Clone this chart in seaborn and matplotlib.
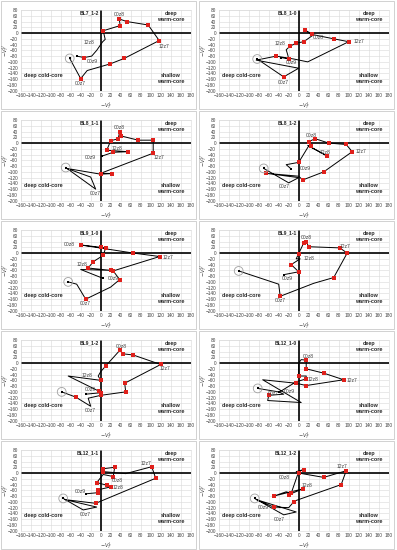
import matplotlib
matplotlib.use("Agg")
import matplotlib.pyplot as plt
from matplotlib.patches import Rectangle
import seaborn as sns

sns.set_style("white")
plt.rcParams['font.family'] = ['Liberation Sans', 'DejaVu Sans']

# ---- data (phase space trajectories) ----
titles = ["BL7_1-2", "BL8_1-0", "BL8_1-1", "BL8_1-2", "BL9_1-0",
          "BL9_1-1", "BL9_1-2", "BL12_1-0", "BL12_1-1", "BL12_1-2"]

bl7_12_x = [-62, -40, -27, 19, 47, 117, 95, 52, 37, 39, 5, 9, 4, -8, -18, -33, -48]
bl7_12_y = [-88, -158, -130, -107, -88, -26, 28, 40, 49, 26, 8, -22, -30, -60, -80, -85, -80]
bl7_12_red = [1, 3, 4, 5, 6, 7, 8, 9, 10, 15]
bl7_12_tags = {1: "00z7", 5: "12z7", 8: "00z8", 12: "12z8", 15: "00z9"}

bl8_10_x = [-83, -30, 0, -85, -45, -10, 18, 100, 70, 27, 13, 28, 10, -5, -17, -25, -22, -20, -35]
bl8_10_y = [-90, -152, -122, -94, -80, -90, -100, -30, -20, -5, 10, -8, -30, -35, -45, -58, -75, -90, -85]
bl8_10_red = [1, 4, 7, 8, 9, 10, 12, 13, 14, 17]
bl8_10_tags = {1: "00z7", 7: "12z7", 9: "00z8", 14: "12z8", 17: "00z9"}

bl8_11_x = [-70, -10, -20, -68, 0, 22, 0, 105, 105, 75, 40, 38, 35, 20, 12, 55, 25, 8, 3]
bl8_11_y = [-85, -160, -118, -88, -108, -106, -105, -35, 10, 10, 25, 40, 15, 8, -25, -30, -32, -42, -45]
bl8_11_red = [4, 5, 7, 8, 9, 10, 11, 12, 13, 14, 15, 16]
bl8_11_tags = {1: "00z7", 7: "12z7", 11: "00z8", 16: "12z8", 18: "00z9"}

bl8_12_x = [-70, -20, 0, -65, 0, 8, 50, 107, 95, 60, 33, 20, 25, 18, 57, 20, 0, -25, -15]
bl8_12_y = [-88, -138, -120, -105, -115, -128, -100, -30, -5, 0, 15, 5, -10, -8, -45, -10, -67, -75, -90]
bl8_12_red = [3, 5, 6, 7, 8, 9, 10, 11, 12, 14, 16]
bl8_12_tags = {1: "00z7", 7: "12z7", 10: "00z8", 14: "12z8", 16: "00z9"}

bl9_10_x = [-65, -48, -30, 20, 38, 25, 118, 65, -40, 0, 10, 5, -15, -25, 20, -40, 5]
bl9_10_y = [-100, -108, -160, -118, -92, -62, -12, 0, 28, 20, 18, -8, -30, -52, -60, -57, -88]
bl9_10_red = [2, 4, 5, 6, 7, 8, 9, 10, 11, 12, 13, 14]
bl9_10_tags = {2: "00z7", 6: "12z7", 8: "00z8", 13: "12z8", 16: "00z9"}

bl9_11_x = [-120, -40, -37, 30, 70, 97, 82, 20, 15, 10, 0, -5, 3, -15, 0, -30]
bl9_11_y = [-62, -108, -150, -105, -85, 0, 18, 22, 40, 35, -2, -20, -20, -40, -65, -75]
bl9_11_red = [2, 4, 5, 6, 7, 8, 9, 10, 13, 14]
bl9_11_tags = {2: "00z7", 5: "12z7", 8: "00z8", 12: "12z8", 15: "00z9"}

bl9_12_x = [-78, -50, -20, -25, 0, 50, 48, 120, 65, 45, 38, 35, 10, 0, -5, 0, -65, -3, 0, -30]
bl9_12_y = [-100, -118, -150, -122, -112, -100, -70, -5, 28, 32, 45, 38, -10, -30, -45, -60, -45, -98, -103, -108]
bl9_12_red = [1, 4, 5, 6, 7, 8, 9, 10, 12, 15, 17, 18]
bl9_12_tags = {2: "00z7", 7: "12z7", 10: "00z8", 14: "12z8", 17: "00z9"}

bl12_10_x = [-82, -40, -30, -60, -62, 5, -72, -5, 15, 90, 50, 15, 15, 5, 0, 0, 15, 15, -5, -40]
bl12_10_y = [-88, -100, -108, -112, -130, -137, -58, -70, -78, -58, -35, -20, 10, 12, 0, -45, -45, -55, -65, -102]
bl12_10_red = [3, 7, 8, 9, 10, 11, 12, 15, 17]
bl12_10_tags = {3: "00z7", 9: "12z7", 12: "00z8", 17: "12z8", 19: "00z9"}

bl12_11_x = [-75, -35, -8, -72, -10, 110, 102, 50, 5, 5, 28, 25, 5, -8, 12, 20, -5, -5, -30]
bl12_11_y = [-88, -128, -118, -92, -105, -18, 22, -2, 5, 15, 20, -12, -5, -33, -42, -48, -58, -68, -72]
bl12_11_red = [4, 5, 6, 8, 9, 10, 11, 13, 14, 15, 16, 17]
bl12_11_tags = {1: "00z7", 6: "12z7", 11: "00z8", 15: "12z8", 17: "00z9"}

bl12_12_x = [-88, -30, -5, -85, -50, -20, -10, -5, 85, 95, 50, 0, -5, 10, 0, -15, -25, -50, 8, -20, -22]
bl12_12_y = [-88, -145, -135, -92, -118, -120, -100, -95, -40, 8, -15, 0, 5, 12, 5, -70, -65, -80, -55, -75, -80]
bl12_12_red = [4, 6, 8, 9, 10, 11, 13, 15, 17, 18, 19]
bl12_12_tags = {1: "00z7", 9: "12z7", 11: "00z8", 18: "12z8", 4: "00z9"}

all_x = [bl7_12_x, bl8_10_x, bl8_11_x, bl8_12_x, bl9_10_x, bl9_11_x, bl9_12_x, bl12_10_x, bl12_11_x, bl12_12_x]
all_y = [bl7_12_y, bl8_10_y, bl8_11_y, bl8_12_y, bl9_10_y, bl9_11_y, bl9_12_y, bl12_10_y, bl12_11_y, bl12_12_y]
all_red = [bl7_12_red, bl8_10_red, bl8_11_red, bl8_12_red, bl9_10_red, bl9_11_red, bl9_12_red, bl12_10_red, bl12_11_red, bl12_12_red]
all_tags = [bl7_12_tags, bl8_10_tags, bl8_11_tags, bl8_12_tags, bl9_10_tags, bl9_11_tags, bl9_12_tags, bl12_10_tags, bl12_11_tags, bl12_12_tags]

# label offsets (data units) per panel, same keys as tags
tag_off = [
    {1: (0, -18), 5: (10, -22), 8: (0, 15), 12: (-28, -3), 15: (17, -14)},
    {1: (0, -18), 7: (20, 0), 9: (12, -12), 14: (-20, 10), 17: (5, -12)},
    {1: (0, -14), 7: (12, -15), 11: (0, 13), 16: (7, 14), 18: (-24, -6)},
    {1: (-9, -11), 7: (18, 0), 10: (-8, 12), 14: (-5, 11), 16: (13, -21)},
    {2: (0, -15), 6: (16, -5), 8: (-22, 0), 13: (-12, 12), 16: (20, 0)},
    {2: (0, -15), 5: (-5, 22), 8: (0, 14), 12: (17, 0), 15: (8, -15)},
    {2: (0, -14), 7: (8, -14), 10: (3, 13), 14: (-22, 3), 17: (-18, 6)},
    {3: (9, 6), 9: (16, -2), 12: (5, 12), 17: (14, -3), 19: (22, 2)},
    {1: (5, -16), 6: (-12, 12), 11: (8, -14), 15: (14, -2), 17: (-35, 5)},
    {1: (-8, -15), 9: (-8, 14), 11: (-28, -14), 18: (8, 13), 4: (-20, 0)},
]

W, H = 397, 550
fig = plt.figure(figsize=(W / 100, H / 100), dpi=100)
fs = 3.6
tfs = 3.4

for i in range(10):
    r, c = divmod(i, 2)
    px0 = 0 if c == 0 else 198
    py0 = 110 * r
    # panel frame
    fig.add_artist(Rectangle(((px0 + 1) / W, 1 - (py0 + 109) / H), 195 / W, 108 / H,
                             transform=fig.transFigure, fill=False, ec="#bfbfbf", lw=0.5))
    ax = fig.add_axes([(px0 + 20.7) / W, 1 - (py0 + 90.7) / H, 170 / W, 80.7 / H])
    ax.set_xlim(-160, 180)
    ax.set_ylim(-200, 80)
    ax.set_xticks(range(-160, 181, 20))
    ax.set_yticks(range(-200, 81, 20))
    ax.tick_params(labelsize=tfs, length=0, pad=2, colors="#404040")
    ax.grid(True, color="#d9d9d9", lw=0.4)
    ax.set_axisbelow(True)
    for s in ax.spines.values():
        s.set_color("#d9d9d9")
        s.set_linewidth(0.4)
    ax.axhline(0, color="black", lw=1.2, zorder=1)
    ax.axvline(0, color="black", lw=1.2, zorder=1)

    xs, ys = all_x[i], all_y[i]
    sns.lineplot(x=xs, y=ys, sort=False, estimator=None, color="black", lw=0.7, ax=ax, zorder=3)
    sns.scatterplot(x=[xs[0], xs[-1]], y=[ys[0], ys[-1]], color="black", s=4, marker="s",
                    linewidth=0, ax=ax, zorder=4)
    sns.scatterplot(x=[xs[k] for k in all_red[i]], y=[ys[k] for k in all_red[i]],
                    color="#e0201b", s=6, marker="s", linewidth=0, ax=ax, zorder=5)
    sns.scatterplot(x=[xs[0]], y=[ys[0]], s=40, marker="o", facecolor="none",
                    edgecolor="#a0a0a0", linewidth=0.6, ax=ax, zorder=5)

    for k, lab in all_tags[i].items():
        dx, dy = tag_off[i][k]
        ax.text(xs[k] + dx, ys[k] + dy, lab, fontsize=fs, ha="center", va="center",
                color="#404040", zorder=6)

    ax.text(-4, 70, titles[i], fontsize=fs, fontweight="bold", ha="right", va="center")
    ax.text(140, 68, "deep", fontsize=fs + 0.3, fontweight="bold", ha="center", va="center", color="#262626")
    ax.text(140, 48, "warm-core", fontsize=fs + 0.3, fontweight="bold", ha="center", va="center", color="#262626")
    ax.text(140, -148, "shallow", fontsize=fs + 0.3, fontweight="bold", ha="center", va="center", color="#262626")
    ax.text(140, -168, "warm-core", fontsize=fs + 0.3, fontweight="bold", ha="center", va="center", color="#262626")
    ax.text(-115, -148, "deep cold-core", fontsize=fs + 0.3, fontweight="bold", ha="center", va="center", color="#262626")

    fig.text((px0 + 105.7) / W, 1 - (py0 + 106) / H, r"$-V_T^{\,L}$", fontsize=fs,
             ha="center", va="center", color="#404040")
    fig.text((px0 + 5.5) / W, 1 - (py0 + 50) / H, r"$-V_T^{\,U}$", fontsize=fs,
             ha="center", va="center", rotation=90, color="#404040")

fig.savefig("out.png", dpi=100)
